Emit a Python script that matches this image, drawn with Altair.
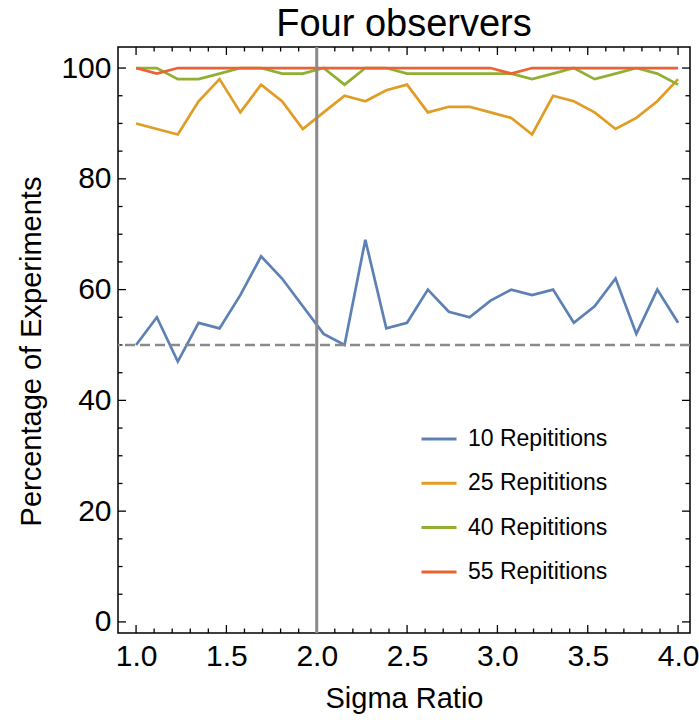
import altair as alt
import pandas as pd

# ---- data ----
sigma_ratio = [1.0, 1.115, 1.231, 1.346, 1.462, 1.577, 1.692, 1.808, 1.923, 2.038,
               2.154, 2.269, 2.385, 2.5, 2.615, 2.731, 2.846, 2.962, 3.077, 3.192,
               3.308, 3.423, 3.538, 3.654, 3.769, 3.885, 4.0]
rep10 = [50, 55, 47, 54, 53, 59, 66, 62, 57, 52, 50, 69, 53, 54, 60, 56, 55, 58, 60, 59,
         60, 54, 57, 62, 52, 60, 54]
rep25 = [90, 89, 88, 94, 98, 92, 97, 94, 89, 92, 95, 94, 96, 97, 92, 93, 93, 92, 91, 88,
         95, 94, 92, 89, 91, 94, 98]
rep40 = [100, 100, 98, 98, 99, 100, 100, 99, 99, 100, 97, 100, 100, 99, 99, 99, 99, 99, 99, 98,
         99, 100, 98, 99, 100, 99, 97]
rep55 = [100, 99, 100, 100, 100, 100, 100, 100, 100, 100, 100, 100, 100, 100, 100, 100, 100, 100, 99, 100,
         100, 100, 100, 100, 100, 100, 100]
series_names = ["10 Repititions", "25 Repititions", "40 Repititions", "55 Repititions"]
series_colors = ["#5E81B5", "#E19C24", "#8FB032", "#EB6235"]

x_tick_labels = [1.0, 1.5, 2.0, 2.5, 3.0, 3.5, 4.0]
x_minor = [1.1, 1.2, 1.3, 1.4, 1.6, 1.7, 1.8, 1.9, 2.1, 2.2, 2.3, 2.4, 2.6, 2.7, 2.8, 2.9,
           3.1, 3.2, 3.3, 3.4, 3.6, 3.7, 3.8, 3.9]
y_tick_labels = [0, 20, 40, 60, 80, 100]
y_minor = [5, 10, 15, 25, 30, 35, 45, 50, 55, 65, 70, 75, 85, 90, 95]
threshold_y = [50]
marker_x = [2.0]

FONT = "Liberation Sans"
W, H = 572, 586

rows = []
for name, vals in zip(series_names, [rep10, rep25, rep40, rep55]):
    for xv, yv in zip(sigma_ratio, vals):
        rows.append({"x": xv, "y": yv, "series": name})
df = pd.DataFrame(rows)

xscale = alt.Scale(domain=[0.9, 4.066], nice=False, zero=False)
yscale = alt.Scale(domain=[-2, 103.8], nice=False, zero=False)

XT = "Sigma Ratio"
YT = "Percentage of Experiments"
xaxis = alt.Axis(values=x_tick_labels, format=".1f", ticks=False, domain=False,
                 grid=False, labelFontSize=30, labelFont=FONT, labelColor="black",
                 labelPadding=8, titleFontSize=29, titleFont=FONT, titleColor="black",
                 titleFontWeight="normal", titlePadding=13)
yaxis = alt.Axis(values=y_tick_labels, format="d", ticks=False, domain=False,
                 grid=False, labelFontSize=30, labelFont=FONT, labelColor="black",
                 labelPadding=7, titleFontSize=29, titleFont=FONT, titleColor="black",
                 titleFontWeight="normal", titlePadding=14, titleY=304)

lines = alt.Chart(df).mark_line(strokeWidth=2.7).encode(
    x=alt.X("x:Q", scale=xscale, title=XT, axis=xaxis),
    y=alt.Y("y:Q", scale=yscale, title=YT, axis=yaxis),
    color=alt.Color("series:N", scale=alt.Scale(domain=series_names, range=series_colors),
                    legend=alt.Legend(orient="none", legendX=302, legendY=373, title=None,
                                      symbolType="stroke", symbolSize=1225, symbolStrokeWidth=3,
                                      labelFontSize=23, labelFont=FONT, labelColor="black",
                                      rowPadding=13.3, labelOffset=10)),
)

hline = alt.Chart(pd.DataFrame({"y": threshold_y})).mark_rule(
    color="#8a8a8a", strokeWidth=2.5, strokeDash=[10, 5]).encode(
    y=alt.Y("y:Q", scale=yscale, title=YT, axis=yaxis))
vline = alt.Chart(pd.DataFrame({"x": marker_x})).mark_rule(
    color="#8a8a8a", strokeWidth=3).encode(
    x=alt.X("x:Q", scale=xscale, title=XT, axis=xaxis))


def xticks(vals, length, top):
    d = pd.DataFrame({"x": vals})
    if top:
        yv, y2v = alt.value(0), alt.value(length)
    else:
        yv, y2v = alt.value(H), alt.value(H - length)
    return alt.Chart(d).mark_rule(color="black", strokeWidth=1.3).encode(
        x=alt.X("x:Q", scale=xscale, title=XT, axis=xaxis), y=yv, y2=y2v)


def yticks(vals, length, right):
    d = pd.DataFrame({"y": vals})
    if right:
        xv, x2v = alt.value(W), alt.value(W - length)
    else:
        xv, x2v = alt.value(0), alt.value(length)
    return alt.Chart(d).mark_rule(color="black", strokeWidth=1.3).encode(
        y=alt.Y("y:Q", scale=yscale, title=YT, axis=yaxis), x=xv, x2=x2v)


ticks = [xticks(x_tick_labels, 8, False), xticks(x_minor, 4.5, False),
         xticks(x_tick_labels, 8, True), xticks(x_minor, 4.5, True),
         yticks(y_tick_labels, 8, False), yticks(y_minor, 4.5, False),
         yticks(y_tick_labels, 8, True), yticks(y_minor, 4.5, True)]

chart = alt.layer(lines, *ticks, hline, vline).properties(
    width=W, height=H,
    title=alt.Title("Four observers", fontSize=38, font=FONT, fontWeight="normal",
                    color="black", anchor="middle", offset=2),
    autosize=alt.AutoSizeParams(type="none"),
    padding={"left": 118, "top": 47, "right": 9, "bottom": 87},
).configure(background="white").configure_view(stroke="black", strokeWidth=1.5)

chart.save("out.html", embed_options={"renderer": "svg", "actions": False})
